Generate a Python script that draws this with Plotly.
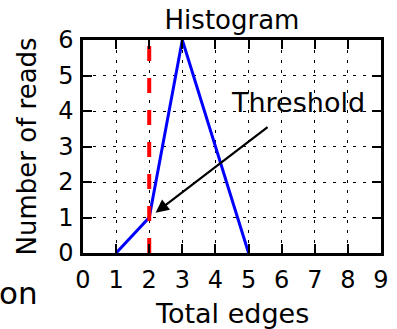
import plotly.graph_objects as go

# Histogram counts of reads per total-edge value
edges = [1, 2, 3, 4, 5]
reads = [0, 1, 6, 3, 0]
threshold = 2
x_ticks = list(range(0, 10))
y_ticks = list(range(0, 7))

FONT = "DejaVu Sans"

fig = go.Figure()

fig.add_trace(go.Scatter(
    x=edges, y=reads, mode="lines",
    line=dict(color="#0000ff", width=3),
    showlegend=False, hoverinfo="skip",
))

# threshold marker
fig.add_trace(go.Scatter(
    x=[threshold, threshold], y=[y_ticks[0], y_ticks[-1]], mode="lines",
    line=dict(color="#ff0000", width=4, dash="15px,17px"),
    showlegend=False, hoverinfo="skip",
))

axis_common = dict(
    showline=True, linecolor="black", linewidth=2.5, mirror="ticks",
    ticks="inside", ticklen=9, tickwidth=1.5, tickcolor="black",
    showgrid=True, gridcolor="black", gridwidth=1, griddash="3px,7px",
    zeroline=False, automargin=False,
    tickfont=dict(family=FONT, size=24, color="black"),
)

fig.update_xaxes(range=[x_ticks[0], x_ticks[-1]], tickvals=x_ticks,
                 ticklabelstandoff=3, **axis_common)
fig.update_yaxes(range=[y_ticks[0], y_ticks[-1]], tickvals=y_ticks,
                 ticklabelstandoff=2, **axis_common)

# axis titles
fig.add_annotation(
    x=0.5, y=-0.286, xref="paper", yref="paper", text="Total edges", showarrow=False,
    font=dict(family=FONT, size=27, color="black"), xanchor="center", yanchor="middle",
)
fig.add_annotation(
    x=-0.188, y=0.5, xref="paper", yref="paper", text="Number of reads", showarrow=False,
    textangle=-90, font=dict(family=FONT, size=26, color="black"),
    xanchor="center", yanchor="middle",
)

# arrow pointing at the threshold bin
threshold_count = reads[edges.index(threshold)]
fig.add_annotation(
    x=threshold, y=threshold_count, xref="x", yref="y",
    ax=5.62, ay=3.58, axref="x", ayref="y",
    text="", showarrow=True, arrowhead=2, arrowsize=1.2, arrowwidth=2.2,
    arrowcolor="black", standoff=8,
)
fig.add_annotation(
    x=6.5, y=4.25, xref="x", yref="y", text="Threshold", showarrow=False,
    font=dict(family=FONT, size=27, color="black"),
    xanchor="center", yanchor="middle",
)

# neighbouring panel label running off the left edge
fig.add_annotation(
    x=-0.144, y=-0.19, xref="paper", yref="paper", text="on", showarrow=False,
    font=dict(family=FONT, size=31, color="black"),
    xanchor="right", yanchor="middle",
)

fig.update_layout(
    width=397, height=329,
    margin=dict(l=83, r=16, t=40, b=76),
    paper_bgcolor="white", plot_bgcolor="white",
    title=dict(text="Histogram", x=0.5, xref="paper", y=0.94, yanchor="middle",
               font=dict(family=FONT, size=26, color="black")),
)

fig.write_html("out.html")
